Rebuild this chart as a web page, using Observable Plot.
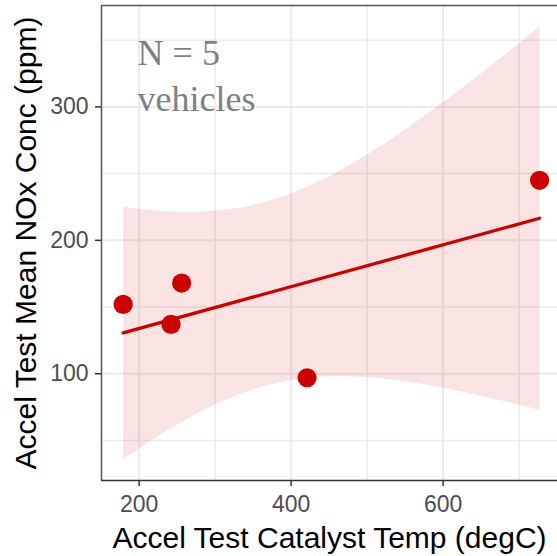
<!DOCTYPE html>
<html><head><meta charset="utf-8">
<script src="https://cdn.jsdelivr.net/npm/d3@7"></script>
<script src="https://cdn.jsdelivr.net/npm/@observablehq/plot@0.6"></script>
<style>body{margin:0;overflow:hidden;background:#fff}</style>
</head><body><div id="chart"></div>
<script>
// Data
const catalystTemp = [179, 242, 256, 421, 727];
const noxConc = [152, 137, 168, 97, 245];
const xTicks = [200, 400, 600];
const xMinorTicks = [300, 500, 700];
const yTicks = [100, 200, 300];
const yMinorTicks = [50, 150, 250, 350];
const annotationText = ["N = 5\nvehicles"];
const annotationX = 198;
const annotationY = 325;
const xTitle = "Accel Test Catalyst Temp (degC)";
const yTitle = "Accel Test Mean NOx Conc (ppm)";

const data = catalystTemp.map((t, i) => ({temp: t, nox: noxConc[i]}));
const red = "#CC0000";
const xDomain = [150.5, 754.5];
const yDomain = [20, 376];
const border = "#555";

const chart = Plot.plot({
  width: 557,
  height: 556,
  marginLeft: 101,
  marginTop: 5,
  marginBottom: 76,
  marginRight: 0,
  style: {fontFamily: "'Liberation Sans', Arial, sans-serif", background: "white"},
  x: {domain: xDomain, range: [101, 560]},
  y: {domain: yDomain},
  marks: [
    Plot.gridX(xMinorTicks, {stroke: "#EBEBEB", strokeOpacity: 1, strokeWidth: 1.5}),
    Plot.gridY(yMinorTicks, {stroke: "#EBEBEB", strokeOpacity: 1, strokeWidth: 1.5}),
    Plot.gridX(xTicks, {stroke: "#EBEBEB", strokeOpacity: 1, strokeWidth: 2}),
    Plot.gridY(yTicks, {stroke: "#EBEBEB", strokeOpacity: 1, strokeWidth: 2}),
    Plot.linearRegressionY(data, {x: "temp", y: "nox", ci: 0.95, stroke: red, strokeWidth: 3.3, fill: red, fillOpacity: 0.11}),
    Plot.dot(data, {x: "temp", y: "nox", r: 9.6, fill: red, stroke: "none"}),
    Plot.text(annotationText, {x: () => annotationX, y: () => annotationY, textAnchor: "start", lineAnchor: "middle", lineHeight: 1.27,
      fontFamily: "'Liberation Serif', 'Times New Roman', serif", fontSize: 36, fill: "#7F7F7F"}),
    Plot.ruleX([xDomain[0]], {stroke: border, strokeWidth: 1.5}),
    Plot.ruleY([yDomain[1]], {stroke: border, strokeWidth: 1.5}),
    Plot.ruleY([yDomain[0]], {stroke: "#333", strokeWidth: 1.5}),
    Plot.axisX(xTicks, {tickSize: 6, tickPadding: 9, fontSize: 23, fill: "#4D4D4D", stroke: "#333", strokeWidth: 1.5, label: null}),
    Plot.axisY(yTicks, {tickSize: 6, tickPadding: 7, fontSize: 23, fill: "#4D4D4D", stroke: "#333", strokeWidth: 1.5, label: null}),
    Plot.text([xTitle], {frameAnchor: "bottom", dy: 58, textAnchor: "middle", lineAnchor: "middle", fontSize: 30, fill: "black"}),
    Plot.text([yTitle], {frameAnchor: "left", dx: -75, rotate: -90, textAnchor: "middle", lineAnchor: "middle", fontSize: 30, fill: "black"})
  ]
});
document.getElementById("chart").appendChild(chart);
</script>
</body></html>
